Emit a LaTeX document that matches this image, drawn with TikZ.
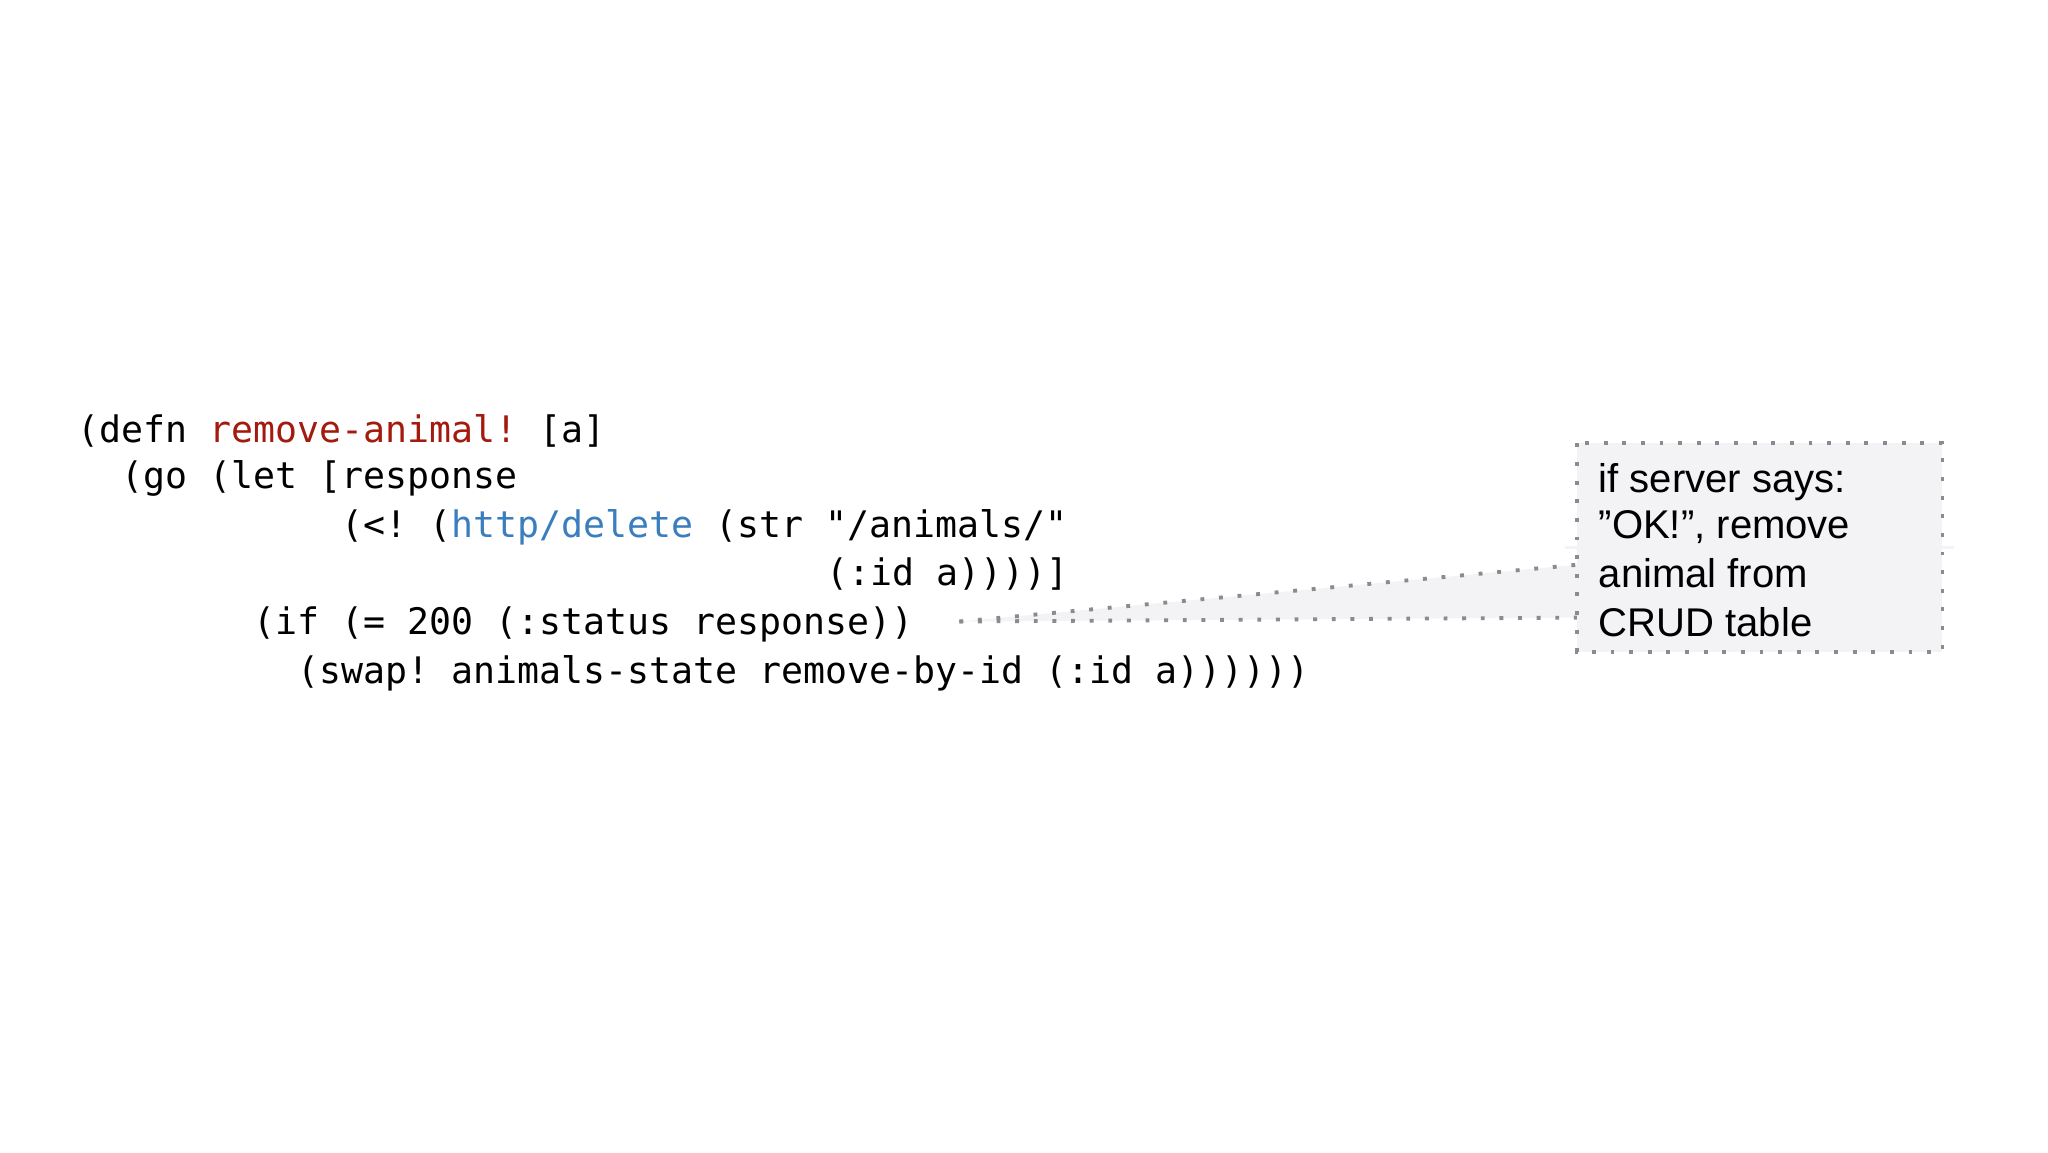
\documentclass[tikz,border=0pt]{standalone}
\usepackage{fontspec}
\setmainfont{Liberation Sans}
\setmonofont{DejaVu Sans Mono}
\definecolor{kwred}{HTML}{A31A0E}
\definecolor{kwblue}{HTML}{3B7EBE}
\definecolor{boxfill}{HTML}{F3F2F4}
\definecolor{dotgray}{HTML}{8A8A90}
\begin{document}
\begin{tikzpicture}[x=0.013196cm,y=-0.013196cm,
  code/.style={anchor=base west,inner sep=0pt,font=\fontsize{10.4}{12}\ttfamily},
  note/.style={anchor=base west,inner sep=0pt,font=\fontsize{11.4}{13}\selectfont},
  dotline/.style={draw=dotgray,line width=1.1pt,dash pattern=on 1.1pt off 4.2pt}]
\useasboundingbox (0,0) rectangle (1552,873);
\def\cw{16.7}
\node[code] (l1) at (58,335) {(defn \textcolor{kwred}{remove-animal!} [a]};
\node[code] (l2) at ({58+2*\cw},370) {(go (let [response};
\node[code] (l3) at ({58+12*\cw},407) {(<! (\textcolor{kwblue}{http/delete} (str "/animals/"};
\node[code] (l4) at ({58+34*\cw},444) {(:id a))))]};
\node[code] (l5) at ({58+8*\cw},481) {(if (= 200 (:status response))};
\node[code] (l6) at ({58+10*\cw},518) {(swap! animals-state remove-by-id (:id a))))))};
% callout
\coordinate (tip) at (727,471);
\coordinate (pa) at (1195,428);
\coordinate (pb) at (1195,468);
\fill[boxfill] (tip) -- (pa) -- (pb) -- cycle;
\node[draw=none,fill=boxfill,minimum width=277\pgflinewidth,inner sep=0pt] (box) at (1333.5,415) {};
\fill[boxfill] (1195,336) rectangle (1472,494);
\draw[dotline] (1195,336) rectangle (1472,494);
\draw[dotline] (tip) -- (pa);
\draw[dotline] (tip) -- (pb);
\node[note] (t1) at (1211,373) {if server says:};
\node[note] (t2) at (1211,408) {"OK!", remove};
\node[note] (t3) at (1211,445) {animal from};
\node[note] (t4) at (1211,482) {CRUD table};
\end{tikzpicture}
\end{document}
